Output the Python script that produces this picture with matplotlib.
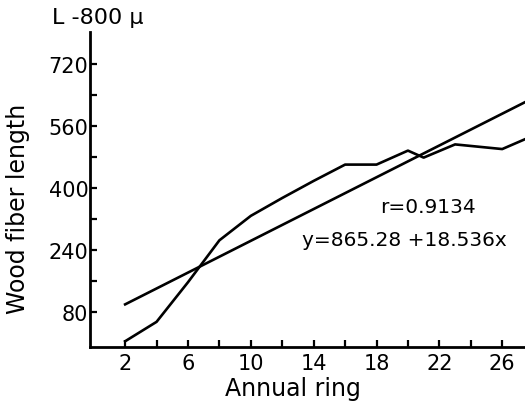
import matplotlib
matplotlib.use("Agg")
import matplotlib.pyplot as plt
from matplotlib.ticker import FixedLocator

# annual ring vs mean fiber length
ring = [2, 4, 6, 8, 10, 12, 14, 16, 18, 20, 21, 23, 26, 28]
length = [5, 55, 157, 265, 328, 374, 418, 460, 460, 496, 478, 512, 500, 535]

# regression line end points
fit_x = [2, 28]
fit_y = [100, 632]

xticks = [2, 6, 10, 14, 18, 22, 26]
xminor = list(range(2, 30, 2))
yticks = [80, 240, 400, 560, 720]
yminor = list(range(80, 800, 80))

fig = plt.figure(figsize=(5.25, 4.10), dpi=100)
ax = fig.add_axes([0.171, 0.151, 0.829, 0.769])

ax.plot(ring, length, color='black', linewidth=1.9)
ax.plot(fit_x, fit_y, color='black', linewidth=1.9)

ax.set_xlim(-0.25, 27.45)
ax.set_ylim(-10, 802)

ax.xaxis.set_major_locator(FixedLocator(xticks))
ax.xaxis.set_minor_locator(FixedLocator(xminor))
ax.yaxis.set_major_locator(FixedLocator(yticks))
ax.yaxis.set_minor_locator(FixedLocator(yminor))
ax.tick_params(which='both', direction='in', length=5, width=1.6, labelsize=15)
ax.tick_params(axis='y', pad=1)
ax.tick_params(axis='x', pad=4)

for s in ['top', 'right']:
    ax.spines[s].set_visible(False)
for s in ['left', 'bottom']:
    ax.spines[s].set_linewidth(2)

ax.text(18.2, 353, 'r=0.9134', fontsize=14.5, va='center')
ax.text(13.25, 266, 'y=865.28 +18.536x', fontsize=14.5, va='center')

fig.text(0.10, 0.955, 'L -800 μ', fontsize=16, va='center')
fig.text(0.034, 0.49, 'Wood fiber length', fontsize=17, rotation=90, ha='center', va='center')
fig.text(0.558, 0.05, 'Annual ring', fontsize=17, ha='center', va='center')

fig.savefig('out.png', dpi=100)
